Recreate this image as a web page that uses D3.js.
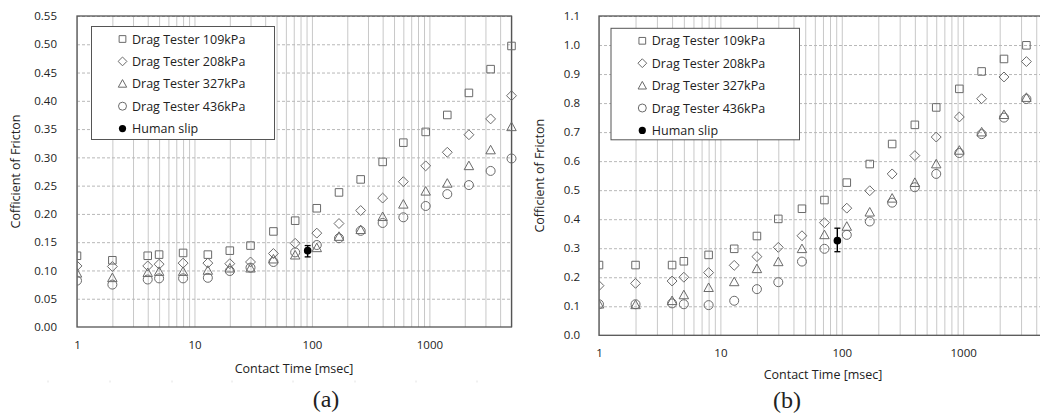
<!DOCTYPE html>
<html><head><meta charset="utf-8">
<script src="https://cdn.jsdelivr.net/npm/d3@7"></script>
<style>
body{margin:0;background:#fff;}
svg{display:block;}
text{font-family:"Open Sans","Noto Sans",sans-serif;fill:#222;}
</style></head>
<body><svg id="c" width="1040" height="416"></svg>
<script>
// ---- data ----
const contactTimes = [1, 2, 4, 5, 8, 13, 20, 30, 47, 72, 110, 170, 260, 400, 600, 930, 1420, 2170, 3320, 5000];
const seriesNames = ["Drag Tester 109kPa", "Drag Tester 208kPa", "Drag Tester 327kPa", "Drag Tester 436kPa"];
const humanName = "Human slip";

const a109 = [0.126, 0.118, 0.126, 0.128, 0.131, 0.128, 0.135, 0.144, 0.169, 0.188, 0.210, 0.238, 0.261, 0.292, 0.326, 0.345, 0.375, 0.414, 0.456, 0.497];
const a208 = [0.108, 0.107, 0.108, 0.111, 0.113, 0.113, 0.112, 0.115, 0.130, 0.148, 0.166, 0.183, 0.206, 0.228, 0.257, 0.285, 0.309, 0.340, 0.368, 0.409];
const a327 = [0.095, 0.087, 0.096, 0.098, 0.098, 0.100, 0.104, 0.104, 0.120, 0.127, 0.140, 0.160, 0.172, 0.195, 0.217, 0.240, 0.254, 0.285, 0.313, 0.354];
const a436 = [0.082, 0.075, 0.084, 0.086, 0.086, 0.087, 0.099, 0.105, 0.115, 0.132, 0.145, 0.157, 0.170, 0.184, 0.194, 0.214, 0.235, 0.251, 0.276, 0.298];

const b109 = [0.242, 0.242, 0.242, 0.255, 0.277, 0.298, 0.342, 0.401, 0.436, 0.466, 0.526, 0.590, 0.659, 0.725, 0.785, 0.849, 0.909, 0.952, 0.999];
const b208 = [0.171, 0.179, 0.187, 0.200, 0.216, 0.241, 0.271, 0.303, 0.343, 0.388, 0.438, 0.498, 0.556, 0.619, 0.683, 0.752, 0.815, 0.890, 0.943];
const b327 = [0.107, 0.105, 0.119, 0.139, 0.164, 0.184, 0.229, 0.253, 0.298, 0.346, 0.375, 0.424, 0.472, 0.526, 0.590, 0.637, 0.700, 0.760, 0.819];
const b436 = [0.107, 0.107, 0.110, 0.107, 0.104, 0.119, 0.159, 0.183, 0.254, 0.298, 0.346, 0.392, 0.457, 0.510, 0.556, 0.628, 0.693, 0.750, 0.814];

const humanTime = 92;
const humanA = {mean: 0.135, lo: 0.124, hi: 0.144};
const humanB = {mean: 0.326, lo: 0.288, hi: 0.369};

const xTickLabels = [1, 10, 100, 1000];
const yTicksA = [0, 0.05, 0.10, 0.15, 0.20, 0.25, 0.30, 0.35, 0.40, 0.45, 0.50, 0.55];
const yTicksB = [0, 0.1, 0.2, 0.3, 0.4, 0.5, 0.6, 0.7, 0.8, 0.9, 1.0, 1.1];

const xTitle = "Contact Time [msec]";
const yTitle = "Cofficient of Fricton";

// ---- drawing ----
const svg = d3.select("#c");
const markerColor = "#6a6a6a";

function shapePath(kind, s) {
  if (kind === 0) { const h = s*0.42; return `M${-h},${-h}H${h}V${h}H${-h}Z`; }
  if (kind === 1) { const h = s*0.55; return `M0,${-h}L${h},0L0,${h}L${-h},0Z`; }
  if (kind === 2) { const h = s*0.5; return `M0,${-h*1.05}L${h*1.05},${h*0.85}L${-h*1.05},${h*0.85}Z`; }
  return null;
}

function drawMarker(g, kind, x, y, s) {
  if (kind === 3) {
    g.append("circle").attr("cx", x).attr("cy", y).attr("r", s*0.5)
      .attr("fill", "none").attr("stroke", markerColor).attr("stroke-width", 1);
  } else {
    g.append("path").attr("d", shapePath(kind, s)).attr("transform", `translate(${x},${y})`)
      .attr("fill", "none").attr("stroke", markerColor).attr("stroke-width", 1);
  }
}

function chart(cfg) {
  const {left, right, top, bottom, series, yTicks, yFmt, human, yMax} = cfg;
  const g = svg.append("g");
  const x = d3.scaleLog().domain([1, 5000]).range([left, right]);
  const y = d3.scaleLinear().domain([0, yMax]).range([bottom, top]);
  const clipId = "clip" + left;
  svg.append("defs").append("clipPath").attr("id", clipId)
    .append("rect").attr("x", left).attr("y", top - 6).attr("width", right - left + 10).attr("height", bottom - top + 12);

  // vertical grid
  const minor = [];
  for (let e = 0; e < 4; e++) for (let m = 1; m <= 9; m++) { const v = m * Math.pow(10, e); if (v <= 5000) minor.push(v); }
  g.append("g").attr("transform", `translate(0,${bottom})`)
    .call(d3.axisBottom(x).tickValues(minor).tickSize(-(bottom - top)).tickFormat(""))
    .call(s => s.select(".domain").remove())
    .call(s => s.selectAll("line").attr("stroke", "#c8c8c8").attr("stroke-width", 1));

  // horizontal grid
  g.append("g").attr("transform", `translate(${left},0)`)
    .call(d3.axisLeft(y).tickValues(yTicks.slice(1)).tickSize(-(right - left)).tickFormat(""))
    .call(s => s.select(".domain").remove())
    .call(s => s.selectAll("line").attr("stroke", "#b8b8b8").attr("stroke-dasharray", "3,2").attr("stroke-width", 1));

  // y tick labels
  g.append("g").attr("transform", `translate(${left},0)`)
    .call(d3.axisLeft(y).tickValues(yTicks).tickSize(0).tickPadding(cfg.yPad).tickFormat(yFmt))
    .call(s => s.select(".domain").remove())
    .call(s => s.selectAll("text").style("font-size", "11.5px").attr("fill", "#222"));

  // x tick labels
  g.append("g").attr("transform", `translate(0,${bottom})`)
    .call(d3.axisBottom(x).tickValues(xTickLabels).tickSize(0).tickPadding(cfg.xPad).tickFormat(d3.format("d")))
    .call(s => s.select(".domain").remove())
    .call(s => s.selectAll("text").style("font-size", "11.5px").attr("fill", "#222"));

  // frame
  g.append("rect").attr("x", left).attr("y", top).attr("width", right - left).attr("height", bottom - top)
    .attr("fill", "none").attr("stroke", "#555").attr("stroke-width", 1.3);

  // legend
  const L = cfg.legend;
  g.append("rect").attr("x", L.x).attr("y", L.y).attr("width", L.w).attr("height", L.h)
    .attr("fill", "#fff").attr("stroke", "#555").attr("stroke-width", 1);
  const names = seriesNames.concat([humanName]);
  names.forEach((n, i) => {
    const cy = L.y + 12.5 + i * 22.4;
    if (i < 4) drawMarker(g, i, L.mx, cy, 8);
    else g.append("circle").attr("cx", L.mx).attr("cy", cy).attr("r", 3.6).attr("fill", "#000");
    g.append("text").attr("x", L.mx + 9.5).attr("y", cy).attr("dy", "0.36em")
      .style("font-size", "12.5px").text(n);
  });

  // points
  const pts = g.append("g").attr("clip-path", `url(#${clipId})`);
  series.forEach((vals, k) => {
    vals.forEach((v, i) => drawMarker(pts, k, x(contactTimes[i]), y(v), 9));
  });

  // human slip
  const hx = x(humanTime);
  const eb = g.append("g");
  eb.append("line").attr("x1", hx).attr("x2", hx).attr("y1", y(human.lo)).attr("y2", y(human.hi)).attr("stroke", "#000").attr("stroke-width", 1.3);
  [human.lo, human.hi].forEach(v => eb.append("line").attr("x1", hx - 3).attr("x2", hx + 3).attr("y1", y(v)).attr("y2", y(v)).attr("stroke", "#000").attr("stroke-width", 1.3));
  eb.append("circle").attr("cx", hx).attr("cy", y(human.mean)).attr("r", 3.8).attr("fill", "#000");

  // titles
  g.append("text").attr("x", cfg.xtX).attr("y", cfg.xtY).attr("text-anchor", "middle").attr("dy", "0.35em")
    .style("font-size", "12.5px").text(xTitle);
  g.append("text").attr("transform", `translate(${cfg.ytX},${(top + bottom) / 2}) rotate(-90)`)
    .attr("text-anchor", "middle").attr("dy", "0.35em").style("font-size", "12.5px").text(yTitle);
  g.append("text").attr("x", cfg.capX).attr("y", cfg.capY).attr("text-anchor", "middle").attr("dy", "0.35em")
    .style("font-family", "'Liberation Serif','DejaVu Serif',serif").style("font-size", "24px").attr("fill", "#111").text(cfg.cap);
}

chart({left: 77, right: 511.5, top: 16, bottom: 327, yMax: 0.55,
  series: [a109, a208, a327, a436], yTicks: yTicksA, yFmt: d3.format(".2f"), human: humanA,
  yPad: 20, xPad: 14,
  legend: {x: 91.5, y: 26.5, w: 183, h: 113, mx: 122.5},
  xtX: 294, xtY: 369, ytX: 16, capX: 326, capY: 399, cap: "(a)"});

chart({left: 599, right: 1048, top: 16, bottom: 335.3, yMax: 1.1,
  series: [b109, b208, b327, b436], yTicks: yTicksB, yFmt: d3.format(".1f"), human: humanB,
  yPad: 19, xPad: 14,
  legend: {x: 611, y: 28.3, w: 188.5, h: 111.5, mx: 642.3},
  xtX: 823, xtY: 374.5, ytX: 540, capX: 787, capY: 400, cap: "(b)"});

// faint leftover tick marks below panel (a)
const faint = [48, 110, 172, 232, 293, 355, 416, 477];
svg.append("g").selectAll("line").data(faint).join("line")
  .attr("x1", d => d).attr("x2", d => d).attr("y1", 380.5).attr("y2", 382.5)
  .attr("stroke", "#e2e2e2").attr("stroke-width", 1);
</script></body></html>
